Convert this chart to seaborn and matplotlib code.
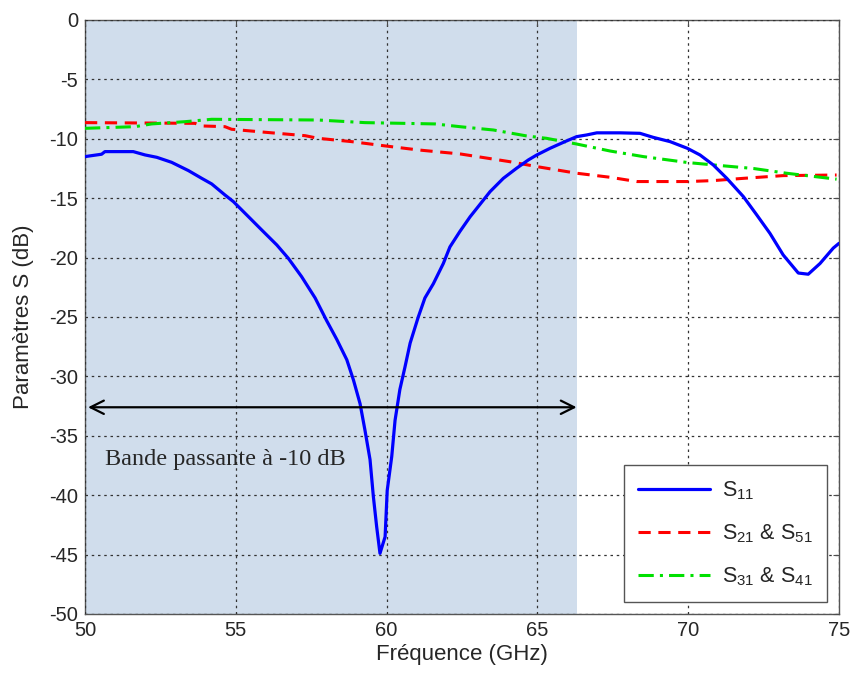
import numpy as np
import pandas as pd
import matplotlib
matplotlib.use("Agg")
import matplotlib.pyplot as plt
import seaborn as sns

# S11 (blue)
f_s11 = [50.0, 50.55, 50.66, 51.6, 51.99, 52.38, 52.87, 53.43, 53.87, 54.2, 54.64, 54.92, 55.42,
         55.86, 56.36, 56.74, 57.18, 57.63, 58.01, 58.35, 58.68, 58.9, 59.12, 59.28, 59.45, 59.56,
         59.67, 59.78, 59.95, 60.02, 60.17, 60.28, 60.44, 60.61, 60.78, 61.05, 61.27, 61.55, 61.88,
         62.1, 62.43, 62.77, 63.04, 63.43, 63.87, 64.31, 64.7, 64.98, 65.42, 65.86, 66.3, 66.63,
         66.97, 67.74, 68.4, 68.84, 69.4, 69.97, 70.39, 70.83, 71.28, 71.83, 72.27, 72.71, 73.15,
         73.65, 73.98, 74.37, 74.81, 75.0]
s11 = [-11.5, -11.3, -11.08, -11.08, -11.36, -11.56, -11.98, -12.68, -13.33, -13.8, -14.73, -15.29,
       -16.56, -17.68, -18.94, -20.06, -21.6, -23.4, -25.3, -26.9, -28.6, -30.3, -32.3, -34.5,
       -37.0, -40.1, -42.65, -44.9, -43.5, -39.6, -36.75, -33.7, -31.1, -29.2, -27.2, -25.0, -23.4,
       -22.2, -20.5, -19.1, -17.8, -16.56, -15.7, -14.45, -13.33, -12.48, -11.78, -11.36, -10.8,
       -10.3, -9.82, -9.68, -9.5, -9.5, -9.54, -9.88, -10.24, -10.8, -11.36, -12.2, -13.33, -14.87,
       -16.4, -17.96, -19.78, -21.3, -21.4, -20.5, -19.2, -18.8]

# S21 & S51 (red)
f_s21 = [50.0, 53.65, 53.87, 54.64, 54.86, 55.97, 57.3, 57.73, 58.84, 59.95, 61.05, 62.45, 64.09,
         65.0, 66.3, 67.41, 68.3, 69.98, 70.83, 71.83, 73.15, 74.92]
s21 = [-8.64, -8.7, -8.92, -8.98, -9.2, -9.45, -9.74, -9.96, -10.24, -10.6, -10.94, -11.28, -11.93,
       -12.35, -12.9, -13.24, -13.6, -13.6, -13.52, -13.33, -13.1, -13.05]

# S31 & S41 (green)
f_s31 = [50.0, 51.66, 52.21, 53.32, 54.2, 57.73, 59.28, 61.6, 62.5, 63.54, 64.64, 65.3, 66.3,
         67.41, 68.51, 69.98, 70.83, 72.16, 73.26, 74.92]
s31 = [-9.12, -8.98, -8.75, -8.56, -8.36, -8.42, -8.64, -8.75, -9.0, -9.26, -9.76, -9.96, -10.44,
       -11.03, -11.5, -12.0, -12.2, -12.5, -12.9, -13.4]

band_start, band_end = 50, 66.3
arrow_y = -32.6
band_text = "Bande passante à -10 dB"

sns.set_style("white")
plt.rcParams['font.family'] = ['Liberation Sans', 'DejaVu Sans']
plt.rcParams['mathtext.fontset'] = 'custom'
plt.rcParams['mathtext.rm'] = 'Liberation Sans'
plt.rcParams['mathtext.it'] = 'Liberation Sans'
plt.rcParams['axes.unicode_minus'] = False

fig = plt.figure(figsize=(8.51, 6.75), dpi=100)
ax = fig.add_axes([0.0999, 0.0904, 0.886, 0.880])

ax.axvspan(band_start, band_end, color='#d0ddec', zorder=0, lw=0)

sns.lineplot(x=f_s11, y=s11, ax=ax, color='#0000ff', lw=2.3, label='S$_{11}$', zorder=4)
sns.lineplot(x=f_s21, y=s21, ax=ax, color='#ff0000', lw=2.2, ls=(0, (4, 2.5)),
             label='S$_{21}$ & S$_{51}$', zorder=3)
sns.lineplot(x=f_s31, y=s31, ax=ax, color='#00e000', lw=2.2, ls=(0, (5, 2, 1, 2)),
             label='S$_{31}$ & S$_{41}$', zorder=3)

ax.annotate('', xy=(band_start + 0.1, arrow_y), xytext=(band_end, arrow_y),
            arrowprops=dict(arrowstyle='<->', color='black', lw=1.6,
                            mutation_scale=24, shrinkA=0, shrinkB=0), zorder=5)
ax.text(50.66, -37.0, band_text, family=['Liberation Serif'], fontsize=17.5,
        va='center', ha='left', zorder=5)

ax.set_xlim(50, 75)
ax.set_ylim(-50, 0)
ax.set_xticks(np.arange(50, 76, 5))
ax.set_yticks(np.arange(-50, 1, 5))
ax.grid(True, color='#333333', ls=(0, (2, 3)), lw=0.9)
ax.set_axisbelow(False)
ax.tick_params(direction='in', labelsize=14.5, length=4, top=True, right=True,
               color='#4d4d4d', pad=5)
for sp in ax.spines.values():
    sp.set_color('#555555')
    sp.set_linewidth(1.0)

ax.set_xlabel('Fréquence (GHz)', fontsize=16, labelpad=3)
ax.set_ylabel('Paramètres S (dB)', fontsize=16, labelpad=11)

leg = ax.legend(loc='lower right', fontsize=15.5, handlelength=3.3, framealpha=1,
                fancybox=False, edgecolor='#555555', borderaxespad=0.55, labelspacing=0.95,
                handletextpad=0.6, borderpad=0.65)
leg.get_frame().set_linewidth(1.0)
leg.set_zorder(10)

fig.savefig('out.png', dpi=100)
